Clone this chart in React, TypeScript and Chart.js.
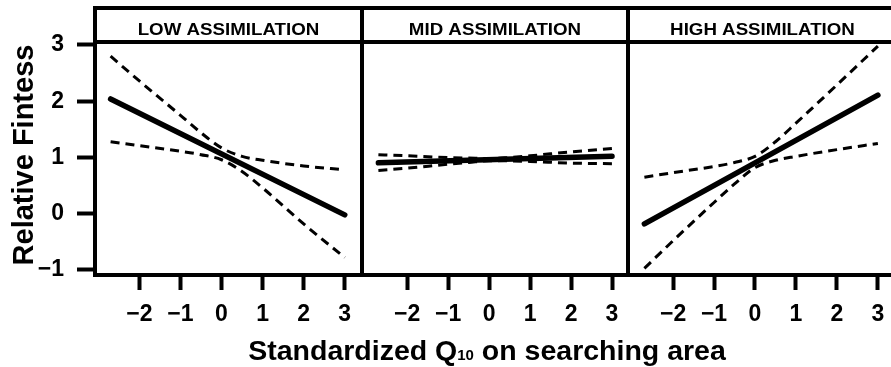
import React, { useEffect, useRef } from "react";
import { Chart, registerables } from "chart.js";

Chart.register(...registerables);

const FONT = '"Liberation Sans", Arial, Helvetica, sans-serif';

const panelTitles = ["LOW ASSIMILATION", "MID ASSIMILATION", "HIGH ASSIMILATION"];
const xTickValues = [-2, -1, 0, 1, 2, 3];
const yTickValues = [-1, 0, 1, 2, 3];
const yAxisTitle = "Relative Fintess";
const xTitleMain = "Standardized Q";
const xTitleSub = "10";
const xTitleRest = " on searching area";

// x positions at which the lines were read
const fitX = [-2.7, 3];
const bandX = [-2.7, -2, -1, -0.5, 0, 0.5, 1, 2, 3];

// LOW assimilation
const lowFit = [2.04, -0.02];
const lowUpper = [2.8, 2.36, 1.75, 1.44, 1.17, 1.02, 0.95, 0.85, 0.78];
const lowLower = [1.28, 1.21, 1.11, 1.05, 0.96, 0.75, 0.46, -0.18, -0.78];

// MID assimilation
const midFit = [0.905, 1.02];
const midUpper = [1.05, 1.03, 1.0, 0.99, 0.98, 1.0, 1.03, 1.1, 1.16];
const midLower = [0.77, 0.81, 0.88, 0.91, 0.94, 0.94, 0.93, 0.9, 0.89];

// HIGH assimilation
const highFit = [-0.18, 2.11];
const highUpper = [0.65, 0.73, 0.84, 0.91, 1.02, 1.28, 1.61, 2.29, 2.98];
const highLower = [-0.97, -0.48, 0.2, 0.53, 0.82, 0.95, 1.02, 1.14, 1.25];

const fmt = (v: number) => (v < 0 ? "\u2212" + Math.abs(v) : String(v));

const pts = (xs: number[], ys: number[]) => xs.map((x, i) => ({ x, y: ys[i] }));

const fitDs = (ys: number[], axis: string) => ({
  data: pts(fitX, ys),
  xAxisID: axis,
  yAxisID: "y",
  borderColor: "#000",
  borderWidth: 5.5,
  borderCapStyle: "round" as const,
  pointRadius: 0,
  fill: false,
});

const bandDs = (ys: number[], axis: string) => ({
  data: pts(bandX, ys),
  xAxisID: axis,
  yAxisID: "y",
  borderColor: "#000",
  borderWidth: 3,
  borderDash: [9, 6],
  cubicInterpolationMode: "monotone" as const,
  pointRadius: 0,
  fill: false,
});

const xScale = (min: number, max: number, weight: number) => ({
  type: "linear" as const,
  position: "bottom" as const,
  stack: "panels",
  stackWeight: weight,
  min,
  max,
  afterBuildTicks: (s: any) => {
    s.ticks = xTickValues.map((v) => ({ value: v }));
  },
  afterFit: (s: any) => {
    s.height = 51;
    s.paddingLeft = 0;
    s.paddingRight = 0;
  },
  grid: {
    drawOnChartArea: false,
    drawTicks: true,
    tickLength: 15,
    tickWidth: 4,
    tickColor: "#000",
  },
  border: { display: false },
  ticks: {
    padding: 11,
    color: "#000",
    maxRotation: 0,
    autoSkip: false,
    font: { family: FONT, size: 23, weight: "bold" as const },
    callback: (v: any) => fmt(Number(v)),
  },
});

const framePlugin = {
  id: "framePlugin",
  afterDraw(chart: any) {
    const ctx = chart.ctx as CanvasRenderingContext2D;
    const { top, bottom } = chart.chartArea;
    const stripTop = 8;
    ctx.save();
    ctx.strokeStyle = "#000";
    ctx.fillStyle = "#000";
    ctx.lineWidth = 4;
    ["x1", "x2", "x3"].forEach((id, i) => {
      const s = chart.scales[id];
      const l = s.left;
      const r = i === 2 ? s.right + 6 : s.right;
      ctx.strokeRect(l, stripTop, r - l, bottom - stripTop);
      ctx.beginPath();
      ctx.moveTo(l, top);
      ctx.lineTo(r, top);
      ctx.stroke();
      ctx.save();
      ctx.font = `bold 16px ${FONT}`;
      ctx.textAlign = "center";
      ctx.textBaseline = "alphabetic";
      ctx.translate((l + r) / 2, 35);
      ctx.scale(1.17, 1);
      ctx.fillText(panelTitles[i], 0, 0);
      ctx.restore();
    });

    // y axis title
    ctx.save();
    ctx.font = `bold 29px ${FONT}`;
    ctx.textAlign = "center";
    ctx.textBaseline = "alphabetic";
    ctx.translate(33, 155);
    ctx.rotate(-Math.PI / 2);
    ctx.fillText(yAxisTitle, 0, 0);
    ctx.restore();

    // x axis title with small "10"
    const big = `bold 28.5px ${FONT}`;
    const small = `bold 15px ${FONT}`;
    ctx.textAlign = "left";
    ctx.textBaseline = "alphabetic";
    ctx.font = big;
    const w1 = ctx.measureText(xTitleMain).width;
    const w3 = ctx.measureText(xTitleRest).width;
    ctx.font = small;
    const w2 = ctx.measureText(xTitleSub).width;
    const total = w1 + w2 + w3;
    let x = 487 - total / 2;
    const base = 360;
    ctx.font = big;
    ctx.fillText(xTitleMain, x, base);
    x += w1;
    ctx.font = small;
    ctx.fillText(xTitleSub, x, base);
    x += w2;
    ctx.font = big;
    ctx.fillText(xTitleRest, x, base);
    ctx.restore();
  },
};

export default function App() {
  const ref = useRef<HTMLCanvasElement | null>(null);

  useEffect(() => {
    if (!ref.current) return;
    const chart = new Chart(ref.current, {
      type: "line",
      data: {
        datasets: [
          fitDs(lowFit, "x1"),
          bandDs(lowUpper, "x1"),
          bandDs(lowLower, "x1"),
          fitDs(midFit, "x2"),
          bandDs(midUpper, "x2"),
          bandDs(midLower, "x2"),
          fitDs(highFit, "x3"),
          bandDs(highUpper, "x3"),
          bandDs(highLower, "x3"),
        ] as any,
      },
      options: {
        responsive: false,
        animation: false,
        devicePixelRatio: 1,
        layout: { padding: { top: 42, bottom: 41, left: 0, right: 0 } },
        plugins: {
          legend: { display: false },
          tooltip: { enabled: false },
          title: { display: false },
        },
        scales: {
          y: {
            type: "linear",
            position: "left",
            min: -1.089,
            max: 3.053,
            afterBuildTicks: (s: any) => {
              s.ticks = yTickValues.map((v) => ({ value: v }));
            },
            afterFit: (s: any) => {
              s.width = 95;
              s.paddingTop = 0;
              s.paddingBottom = 0;
            },
            grid: {
              drawOnChartArea: false,
              drawTicks: true,
              tickLength: 18,
              tickWidth: 4,
              tickColor: "#000",
            },
            border: { display: false },
            ticks: {
              padding: 13,
              color: "#000",
              font: { family: FONT, size: 23, weight: "bold" },
              callback: (v: any) => fmt(Number(v)),
            },
          },
          x1: xScale(-3.08, 3.42, 267),
          x2: xScale(-3.1, 3.39, 266),
          x3: xScale(-3.1, 3.32, 263),
        } as any,
      },
      plugins: [framePlugin],
    });
    return () => chart.destroy();
  }, []);

  return (
    <div
      style={{
        position: "fixed",
        left: 0,
        top: 0,
        width: 891,
        height: 367,
        overflow: "hidden",
        background: "#fff",
      }}
    >
      <canvas
        ref={ref}
        width={891}
        height={367}
        style={{ display: "block", width: 891, height: 367 }}
      />
    </div>
  );
}
